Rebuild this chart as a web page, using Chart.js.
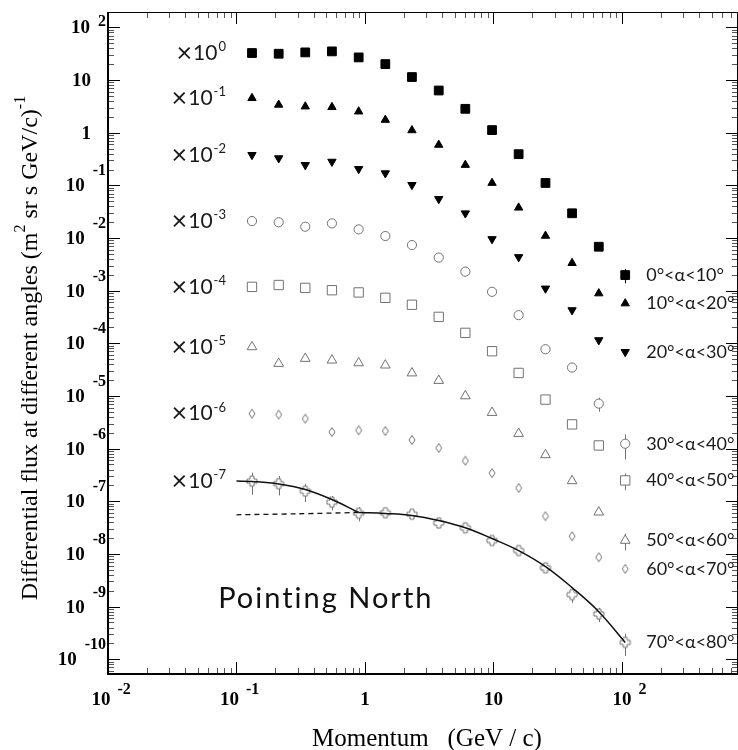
<!DOCTYPE html>
<html>
<head>
<meta charset="utf-8">
<script src="https://cdn.jsdelivr.net/npm/chart.js@4.4.1/dist/chart.umd.min.js"></script>
<style>
  html, body { margin: 0; padding: 0; background: #fff; }
</style>
</head>
<body>
<canvas id="flux" width="738" height="750"></canvas>
<script>
// Momentum bin centres (GeV/c)
const momentum = [0.132, 0.213, 0.343, 0.553, 0.893, 1.44, 2.32, 3.75, 6.04, 9.75, 15.7, 25.4, 40.9, 66.0, 106];

// Differential flux per angle bin (unscaled)
const flux0to10 = [32.6, 31.6, 33.5, 35.0, 26.9, 20.1, 11.4, 6.33, 2.84, 1.12, 0.391, 0.111, 0.0295, 0.00683, 0.00198];
const flux10to20 = [45.4, 33.9, 31.4, 30.6, 25.2, 17.5, 11.1, 5.87, 2.44, 1.11, 0.377, 0.110, 0.0334, 0.00887, 0.00572];
const flux20to30 = [37.9, 32.8, 24.4, 28.2, 20.5, 17.0, 10.2, 5.51, 2.95, 0.956, 0.435, 0.110, 0.0427, 0.0115, 0.00687];
const flux30to40 = [21.0, 19.9, 16.4, 19.0, 14.6, 10.9, 7.35, 4.25, 2.30, 0.951, 0.343, 0.0773, 0.0347, 0.00716, 0.00124];
const flux40to50 = [11.8, 12.8, 11.3, 10.2, 9.26, 7.31, 5.40, 3.18, 1.58, 0.708, 0.274, 0.0854, 0.0289, 0.0115, 0.00249];
const flux50to60 = [8.55, 4.13, 5.14, 4.77, 4.24, 3.84, 2.72, 1.96, 1.00, 0.483, 0.193, 0.0761, 0.0244, 0.00621, 0.00180];
const flux60to70 = [4.62, 4.43, 3.71, 2.07, 2.23, 2.16, 1.46, 1.03, 0.590, 0.343, 0.179, 0.0521, 0.0217, 0.00865, 0.00521];
const flux70to80 = [2.41, 2.16, 1.56, 0.962, 0.594, 0.605, 0.569, 0.387, 0.314, 0.180, 0.116, 0.0544, 0.0169, 0.00726, 0.00209];

// relative errors (only the ones that show outside the markers)
const err0to10 = [0, 0, 0, 0, 0, 0, 0, 0, 0, 0, 0, 0, 0, 0, 0.3];
const err30to40 = [0, 0, 0, 0, 0, 0, 0, 0, 0, 0, 0, 0, 0, 0.3, 0.5];
const err40to50 = [0, 0, 0, 0, 0, 0, 0, 0, 0, 0, 0, 0, 0, 0, 0.35];
const err50to60 = [0, 0, 0, 0, 0, 0, 0, 0, 0, 0, 0, 0, 0, 0, 0.35];
const err70to80 = [0.45, 0.4, 0.38, 0.3, 0.3, 0.12, 0.12, 0.1, 0.1, 0.1, 0.12, 0.15, 0.3, 0.3, 0.45];

// fit to the 70-80 deg bin (unscaled), low and high momentum parts
const fitLowP = [0.1, 0.132, 0.213, 0.343, 0.553, 0.893];
const fitLowFlux = [2.42, 2.38, 2.14, 1.68, 1.08, 0.613];
const fitHighP = [0.893, 1.44, 2.32, 3.75, 6.04, 9.75, 15.7, 25.4, 40.9, 66.0, 106];
const fitHighFlux = [0.613, 0.587, 0.538, 0.432, 0.314, 0.196, 0.116, 0.0576, 0.0230, 0.00802, 0.00209];
const fitExtP = [0.1, 0.3, 0.893];
const fitExtFlux = [0.554, 0.579, 0.613];

const scaleExp = [0, -1, -2, -3, -4, -5, -6, -7];
const angleLabels = ["0°<α<10°", "10°<α<20°", "20°<α<30°", "30°<α<40°", "40°<α<50°", "50°<α<60°", "60°<α<70°", "70°<α<80°"];

const grey = "#727272";
const sansFont = '"Lato", "Open Sans", sans-serif';
const serifFont = '"Liberation Serif", "Times New Roman", serif';

function openMarker(kind) {
	const c = document.createElement("canvas");
	c.width = 14;
	c.height = 14;
	const g = c.getContext("2d");
	g.strokeStyle = grey;
	g.fillStyle = "#fff";
	g.lineWidth = 1;
	g.beginPath();
	if (kind === "diamond") {
		g.moveTo(7, 2.5);
		g.lineTo(10, 7);
		g.lineTo(7, 11.5);
		g.lineTo(4, 7);
	} else {
		const s = 2, r = 5, o = 7;
		g.moveTo(o - s, o - r);
		g.lineTo(o + s, o - r);
		g.lineTo(o + s, o - s);
		g.lineTo(o + r, o - s);
		g.lineTo(o + r, o + s);
		g.lineTo(o + s, o + s);
		g.lineTo(o + s, o + r);
		g.lineTo(o - s, o + r);
		g.lineTo(o - s, o + s);
		g.lineTo(o - r, o + s);
		g.lineTo(o - r, o - s);
		g.lineTo(o - s, o - s);
	}
	g.closePath();
	g.fill();
	g.stroke();
	return c;
}

const allFlux = [flux0to10, flux10to20, flux20to30, flux30to40, flux40to50, flux50to60, flux60to70, flux70to80];
const allErr = [err0to10, null, null, err30to40, err40to50, err50to60, null, err70to80];
const markers = [
	{ style: "rect", radius: 6.2, fill: "#000", line: "#000" },
	{ style: "triangle", radius: 4.8, fill: "#000", line: "#000" },
	{ style: "triangle", radius: 4.8, fill: "#000", line: "#000", rot: 180 },
	{ style: "circle", radius: 4.6, fill: "#fff", line: grey },
	{ style: "rect", radius: 6.6, fill: "#fff", line: grey },
	{ style: "triangle", radius: 5.6, fill: "#fff", line: grey },
	{ style: openMarker("diamond"), radius: 5, fill: "#fff", line: grey },
	{ style: openMarker("cross"), radius: 5, fill: "#fff", line: grey },
];

const scaled = (arr, e) => arr.map(v => v * Math.pow(10, e));
const toPoints = (xs, ys) => xs.map((p, i) => ({ x: p, y: ys[i] }));

const datasets = [];

// fit curves first so they sit on top of the markers
datasets.push({
	type: "line",
	data: toPoints(fitLowP, scaled(fitLowFlux, -7)),
	borderColor: "#111",
	borderWidth: 1.5,
	pointRadius: 0,
	tension: 0.4,
	fill: false,
});
datasets.push({
	type: "line",
	data: toPoints(fitHighP, scaled(fitHighFlux, -7)),
	borderColor: "#111",
	borderWidth: 1.5,
	pointRadius: 0,
	tension: 0.4,
	fill: false,
});
datasets.push({
	type: "line",
	data: toPoints(fitExtP, scaled(fitExtFlux, -7)),
	borderColor: "#111",
	borderWidth: 1.3,
	borderDash: [5, 4],
	pointRadius: 0,
	tension: 0.3,
	fill: false,
});

allFlux.forEach((f, i) => {
	const m = markers[i];
	datasets.push({
		type: "scatter",
		label: angleLabels[i],
		data: toPoints(momentum, scaled(f, scaleExp[i])),
		pointStyle: m.style,
		pointRadius: m.radius,
		pointRotation: m.rot || 0,
		pointBackgroundColor: m.fill,
		pointBorderColor: m.line,
		pointBorderWidth: 1,
		errs: allErr[i],
		tag: i,
	});
});

const errorBars = {
	id: "errorBars",
	beforeDatasetsDraw(chart) {
		const { ctx, scales: { y } } = chart;
		ctx.save();
		ctx.lineWidth = 1;
		chart.data.datasets.forEach((ds, di) => {
			if (!ds.errs) return;
			const meta = chart.getDatasetMeta(di);
			ds.data.forEach((pt, k) => {
				const e = ds.errs[k];
				if (!e) return;
				const px = Math.round(meta.data[k].x) + 0.5;
				ctx.strokeStyle = markers[ds.tag].line;
				ctx.beginPath();
				ctx.moveTo(px, y.getPixelForValue(pt.y * (1 + e)));
				ctx.lineTo(px, y.getPixelForValue(pt.y * (1 - e)));
				ctx.stroke();
			});
		});
		ctx.restore();
	},
};

const frameAndLabels = {
	id: "frameAndLabels",
	afterDraw(chart) {
		const { ctx, chartArea: a, scales: { x, y } } = chart;
		ctx.save();

		// ticks, pointing inwards on all four sides
		ctx.lineWidth = 1;
		for (let e = -3; e <= 3; e++) {
			for (let m = 1; m <= 9; m++) {
				const v = m * Math.pow(10, e);
				if (v < x.min || v > x.max) continue;
				const px = Math.round(x.getPixelForValue(v)) + 0.5;
				const len = m === 1 ? 12 : 6;
				ctx.strokeStyle = m === 1 ? "#000" : "#555";
				ctx.beginPath();
				ctx.moveTo(px, a.bottom);
				ctx.lineTo(px, a.bottom - len);
				ctx.moveTo(px, a.top);
				ctx.lineTo(px, a.top + len);
				ctx.stroke();
			}
		}
		for (let e = -11; e <= 2; e++) {
			for (let m = 1; m <= 9; m++) {
				const v = m * Math.pow(10, e);
				if (v < y.min || v > y.max) continue;
				const py = Math.round(y.getPixelForValue(v)) + 0.5;
				const len = m === 1 ? 12 : 6;
				ctx.strokeStyle = m === 1 ? "#000" : "#555";
				ctx.beginPath();
				ctx.moveTo(a.left, py);
				ctx.lineTo(a.left + len, py);
				ctx.moveTo(a.right, py);
				ctx.lineTo(a.right - len, py);
				ctx.stroke();
			}
		}

		// frame
		ctx.strokeStyle = "#000";
		ctx.lineWidth = 1;
		ctx.beginPath();
		ctx.moveTo(a.left, a.top + 0.5);
		ctx.lineTo(a.right, a.top + 0.5);
		ctx.moveTo(a.right - 0.5, a.top);
		ctx.lineTo(a.right - 0.5, a.bottom);
		ctx.stroke();
		ctx.lineWidth = 2;
		ctx.beginPath();
		ctx.moveTo(a.left, a.top);
		ctx.lineTo(a.left, a.bottom);
		ctx.lineTo(a.right, a.bottom);
		ctx.stroke();

		// tick labels
		const tickFont = "bold 19px " + serifFont;
		const expFont = "bold 16px " + serifFont;
		ctx.fillStyle = "#000";
		ctx.textBaseline = "middle";
		for (let e = -10; e <= 2; e++) {
			const ty = y.getPixelForValue(Math.pow(10, e));
			if (e === 0 || e === 1) {
				ctx.font = tickFont;
				ctx.textAlign = "right";
				ctx.fillText(e === 0 ? "1" : "10", a.left - 17, ty + 1);
			} else {
				ctx.font = expFont;
				const ex = String(e);
				const ew = ctx.measureText(ex).width;
				ctx.textAlign = "right";
				ctx.fillText(ex, a.left - 2, ty - (e > 0 ? 6 : 14));
				ctx.font = tickFont;
				ctx.fillText("10", a.left - 2 - ew - 8, ty + 1);
			}
		}
		for (let e = -2; e <= 2; e++) {
			const tx = x.getPixelForValue(Math.pow(10, e));
			ctx.font = tickFont;
			ctx.textAlign = "center";
			if (e === 0 || e === 1) {
				ctx.fillText(e === 0 ? "1" : "10", tx, a.bottom + 26);
			} else {
				const bc = tx + (e < 0 ? -7 : 0);
				ctx.fillText("10", bc, a.bottom + 26);
				const bw = ctx.measureText("10").width;
				ctx.font = expFont;
				ctx.textAlign = "left";
				ctx.fillText(String(e), bc + bw / 2 + 7, a.bottom + 16);
			}
		}

		// axis titles
		ctx.font = "25px " + serifFont;
		ctx.textAlign = "center";
		ctx.fillText("Momentum   (GeV / c)", 427, a.bottom + 65);

		const parts = [
			["Differential flux at different angles (m", false],
			["2", true],
			[" sr s GeV/c)", false],
			["-1", true],
		];
		const bigF = "24px " + serifFont;
		const supF = "16px " + serifFont;
		let total = 0;
		parts.forEach(p => {
			ctx.font = p[1] ? supF : bigF;
			total += ctx.measureText(p[0]).width;
		});
		ctx.save();
		ctx.translate(31, 348);
		ctx.rotate(-Math.PI / 2);
		ctx.textAlign = "left";
		let cx = -total / 2;
		parts.forEach(p => {
			ctx.font = p[1] ? supF : bigF;
			ctx.fillText(p[0], cx, p[1] ? -10 : 0);
			cx += ctx.measureText(p[0]).width;
		});
		ctx.restore();

		// scale factor tags and angle labels beside the series
		ctx.fillStyle = "#1a1a1a";
		chart.data.datasets.forEach((ds, di) => {
			if (ds.tag === undefined) return;
			const meta = chart.getDatasetMeta(di);
			const first = meta.data[0];
			const last = meta.data[meta.data.length - 1];

			const right = first.x - 26;
			ctx.textAlign = "left";
			ctx.font = "13px " + sansFont;
			const sup = String(scaleExp[ds.tag]);
			const sw = ctx.measureText(sup).width;
			ctx.fillText(sup, right - sw, first.y - 6);
			ctx.font = "21px " + sansFont;
			const tw = ctx.measureText("10").width;
			ctx.fillText("10", right - sw - 1 - tw, first.y);
			ctx.font = "27px " + sansFont;
			const xw = ctx.measureText("×").width;
			ctx.fillText("×", right - sw - 2 - tw - xw, first.y);

			ctx.font = "18px " + sansFont;
			ctx.fillText(ds.label, last.x + 21, last.y);
		});

		ctx.font = "29px " + sansFont;
		ctx.letterSpacing = "2px";
		ctx.textAlign = "left";
		ctx.fillStyle = "#111";
		ctx.fillText("Pointing North", x.getPixelForValue(0.072), y.getPixelForValue(1.42e-9));
		ctx.letterSpacing = "0px";

		ctx.restore();
	},
};

new Chart(document.getElementById("flux"), {
	type: "scatter",
	data: { datasets },
	options: {
		responsive: false,
		animation: false,
		devicePixelRatio: 1,
		layout: { autoPadding: false, padding: { left: 108, top: 12, right: 0, bottom: 76 } },
		plugins: {
			legend: { display: false },
			tooltip: { enabled: false },
		},
		scales: {
			x: { type: "logarithmic", min: 0.01, max: 800, display: false },
			y: { type: "logarithmic", min: 5.25e-11, max: 196, display: false },
		},
	},
	plugins: [errorBars, frameAndLabels],
});
</script>
</body>
</html>
